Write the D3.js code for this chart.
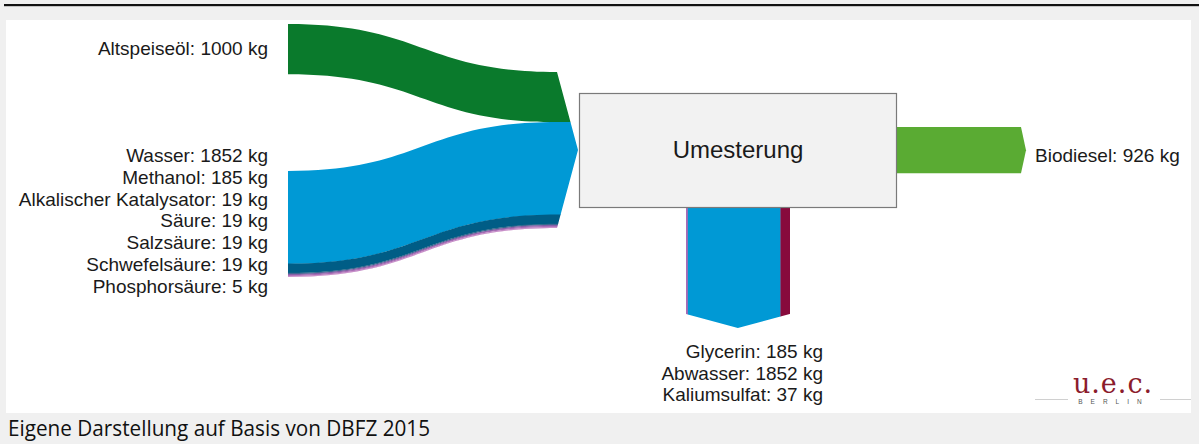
<!DOCTYPE html>
<html><head><meta charset="utf-8">
<script src="https://cdn.jsdelivr.net/npm/d3@7/dist/d3.min.js"></script>
<style>
html,body{margin:0;padding:0;background:#f0f0f0;}
svg{display:block;}
</style></head>
<body>
<svg id="chart" width="1199" height="444"></svg>
<script>
// ---- data ----
const inputNames = ["Altspeiseöl", "Wasser", "Methanol", "Alkalischer Katalysator", "Säure", "Salzsäure", "Schwefelsäure", "Phosphorsäure"];
const inputValues = [1000, 1852, 185, 19, 19, 19, 19, 5];
const inputColors = ["#0a7a2c", "#0099d5", "#005d86", "#2f6a8c", "#7d5ea3", "#a56ab3", "#c48ac6", "#dbaad8"];
const processName = "Umesterung";
const sideOutputNames = ["Biodiesel"];
const sideOutputValues = [926];
const bottomOutputNames = ["Glycerin", "Abwasser", "Kaliumsulfat"];
const bottomOutputValues = [185, 1852, 37];
const bottomColors = {"Glycerin": "#870a3c", "Abwasser": "#0099d5", "Kaliumsulfat": "#a86ab5"};
const bottomOrder = ["Kaliumsulfat", "Abwasser", "Glycerin"]; // left to right
const unit = "kg";
const caption = "Eigene Darstellung auf Basis von DBFZ 2015";

// ---- setup ----
const svg = d3.select("#chart");
const W = 1199, H = 444;
const font = "'Liberation Sans', Arial, sans-serif";
const w = d3.scaleLinear().domain([0, 1000]).range([0, 50]);

svg.append("rect").attr("x", 0).attr("y", 0).attr("width", W).attr("height", H).attr("fill", "#f0f0f0");
svg.append("rect").attr("x", 4).attr("y", 4).attr("width", W - 4).attr("height", 2.2).attr("fill", "#111");
svg.append("rect").attr("x", 6).attr("y", 20).attr("width", 1185).attr("height", 393).attr("fill", "#ffffff");

const defs = svg.append("defs");

// ---- input flows ----
const x0 = 288, x1 = 557, tipX = 578;
const leftTops = [], rightTops = [];
let lt = 171, rt = 72;
inputValues.forEach((v, i) => {
  if (i === 0) { leftTops.push(24); } else { leftTops.push(lt); lt += w(v); }
  rightTops.push(rt); rt += w(v);
});
const inTop = 72, inBot = rt, inMid = (inTop + inBot) / 2;

defs.append("clipPath").attr("id", "inClip").append("polygon")
  .attr("points", [[0, 0], [x1, 0], [x1, inTop], [tipX, inMid], [x1, inBot], [x1, H], [0, H]].map(p => p.join(",")).join(" "));

function band(a, b, h) {
  const xm = (x0 + x1) / 2;
  const p = d3.path();
  p.moveTo(x0, a);
  p.bezierCurveTo(xm, a, xm, b, x1, b);
  p.lineTo(tipX + 5, b);
  p.lineTo(tipX + 5, b + h);
  p.lineTo(x1, b + h);
  p.bezierCurveTo(xm, b + h, xm, a + h, x0, a + h);
  p.closePath();
  return p.toString();
}
const gIn = svg.append("g").attr("clip-path", "url(#inClip)");
inputValues.forEach((v, i) => {
  gIn.append("path").attr("d", band(leftTops[i], rightTops[i], w(v) + (i < inputValues.length - 1 ? 0.3 : 0)))
    .attr("fill", inputColors[i]);
});

// ---- bottom outputs ----
const bx0 = 686;
const bTotal = d3.sum(bottomOutputValues);
const bx1 = bx0 + w(bTotal);
const bSide = 314, bTip = 328;
defs.append("clipPath").attr("id", "botClip").append("polygon")
  .attr("points", [[bx0 - 5, 190], [bx1 + 5, 190], [bx1 + 5, bSide], [bx1, bSide], [(bx0 + bx1) / 2, bTip], [bx0, bSide], [bx0 - 5, bSide]].map(p => p.join(",")).join(" "));
const gBot = svg.append("g").attr("clip-path", "url(#botClip)");
let bx = bx0;
bottomOrder.forEach(name => {
  const v = bottomOutputValues[bottomOutputNames.indexOf(name)];
  gBot.append("rect").attr("x", bx).attr("y", 200).attr("width", w(v) + 0.3).attr("height", 140)
    .attr("fill", bottomColors[name]);
  bx += w(v);
});

// ---- side output (Biodiesel) ----
const sx0 = 895, sx1 = 1021, sTop = 127, sH = w(sideOutputValues[0]);
svg.append("path")
  .attr("d", `M${sx0},${sTop}L${sx1},${sTop}L${sx1 + 5},${sTop + sH / 2}L${sx1},${sTop + sH}L${sx0},${sTop + sH}Z`)
  .attr("fill", "#5aab33");

// ---- process box ----
svg.append("rect").attr("x", 579.5).attr("y", 93.5).attr("width", 317).attr("height", 114)
  .attr("fill", "#f2f2f2").attr("stroke", "#7a7a7a").attr("stroke-width", 1.2);
svg.append("text").attr("x", 738).attr("y", 158).attr("text-anchor", "middle")
  .attr("font-family", font).attr("font-size", 24).attr("fill", "#1a1a1a").text(processName);

// ---- labels ----
const fs = 19;
svg.append("text").attr("x", 268).attr("y", 55).attr("text-anchor", "end")
  .attr("font-family", font).attr("font-size", fs).attr("fill", "#1a1a1a")
  .text(`${inputNames[0]}: ${inputValues[0]} ${unit}`);
inputNames.slice(1).forEach((n, i) => {
  svg.append("text").attr("x", 268).attr("y", 162 + i * 21.8).attr("text-anchor", "end")
    .attr("font-family", font).attr("font-size", fs).attr("fill", "#1a1a1a")
    .text(`${n}: ${inputValues[i + 1]} ${unit}`);
});
svg.append("text").attr("x", 1035).attr("y", 162)
  .attr("font-family", font).attr("font-size", fs).attr("fill", "#1a1a1a")
  .text(`${sideOutputNames[0]}: ${sideOutputValues[0]} ${unit}`);
bottomOutputNames.forEach((n, i) => {
  svg.append("text").attr("x", 823).attr("y", 358 + i * 21.7).attr("text-anchor", "end")
    .attr("font-family", font).attr("font-size", fs).attr("fill", "#1a1a1a")
    .text(`${n}: ${bottomOutputValues[i]} ${unit}`);
});

// ---- logo ----
svg.append("text").attr("x", 1113).attr("y", 393).attr("text-anchor", "middle")
  .attr("font-family", "'DejaVu Serif', serif").attr("font-size", 27).attr("letter-spacing", 1).attr("fill", "#8b1c2c").text("u.e.c.");
svg.append("text").attr("x", 1114).attr("y", 404).attr("text-anchor", "middle")
  .attr("font-family", font).attr("font-size", 6.5).attr("letter-spacing", 8).attr("fill", "#555").text("BERLIN");
svg.append("line").attr("x1", 1035).attr("x2", 1068).attr("y1", 399.5).attr("y2", 399.5).attr("stroke", "#d0d0d0");
svg.append("line").attr("x1", 1160).attr("x2", 1191).attr("y1", 399.5).attr("y2", 399.5).attr("stroke", "#d0d0d0");

// ---- caption ----
svg.append("text").attr("x", 8).attr("y", 436)
  .attr("font-family", "'Open Sans', 'Noto Sans', sans-serif").attr("font-size", 21)
  .attr("textLength", 422).attr("lengthAdjust", "spacingAndGlyphs")
  .attr("fill", "#111").text(caption);
</script>
</body></html>
